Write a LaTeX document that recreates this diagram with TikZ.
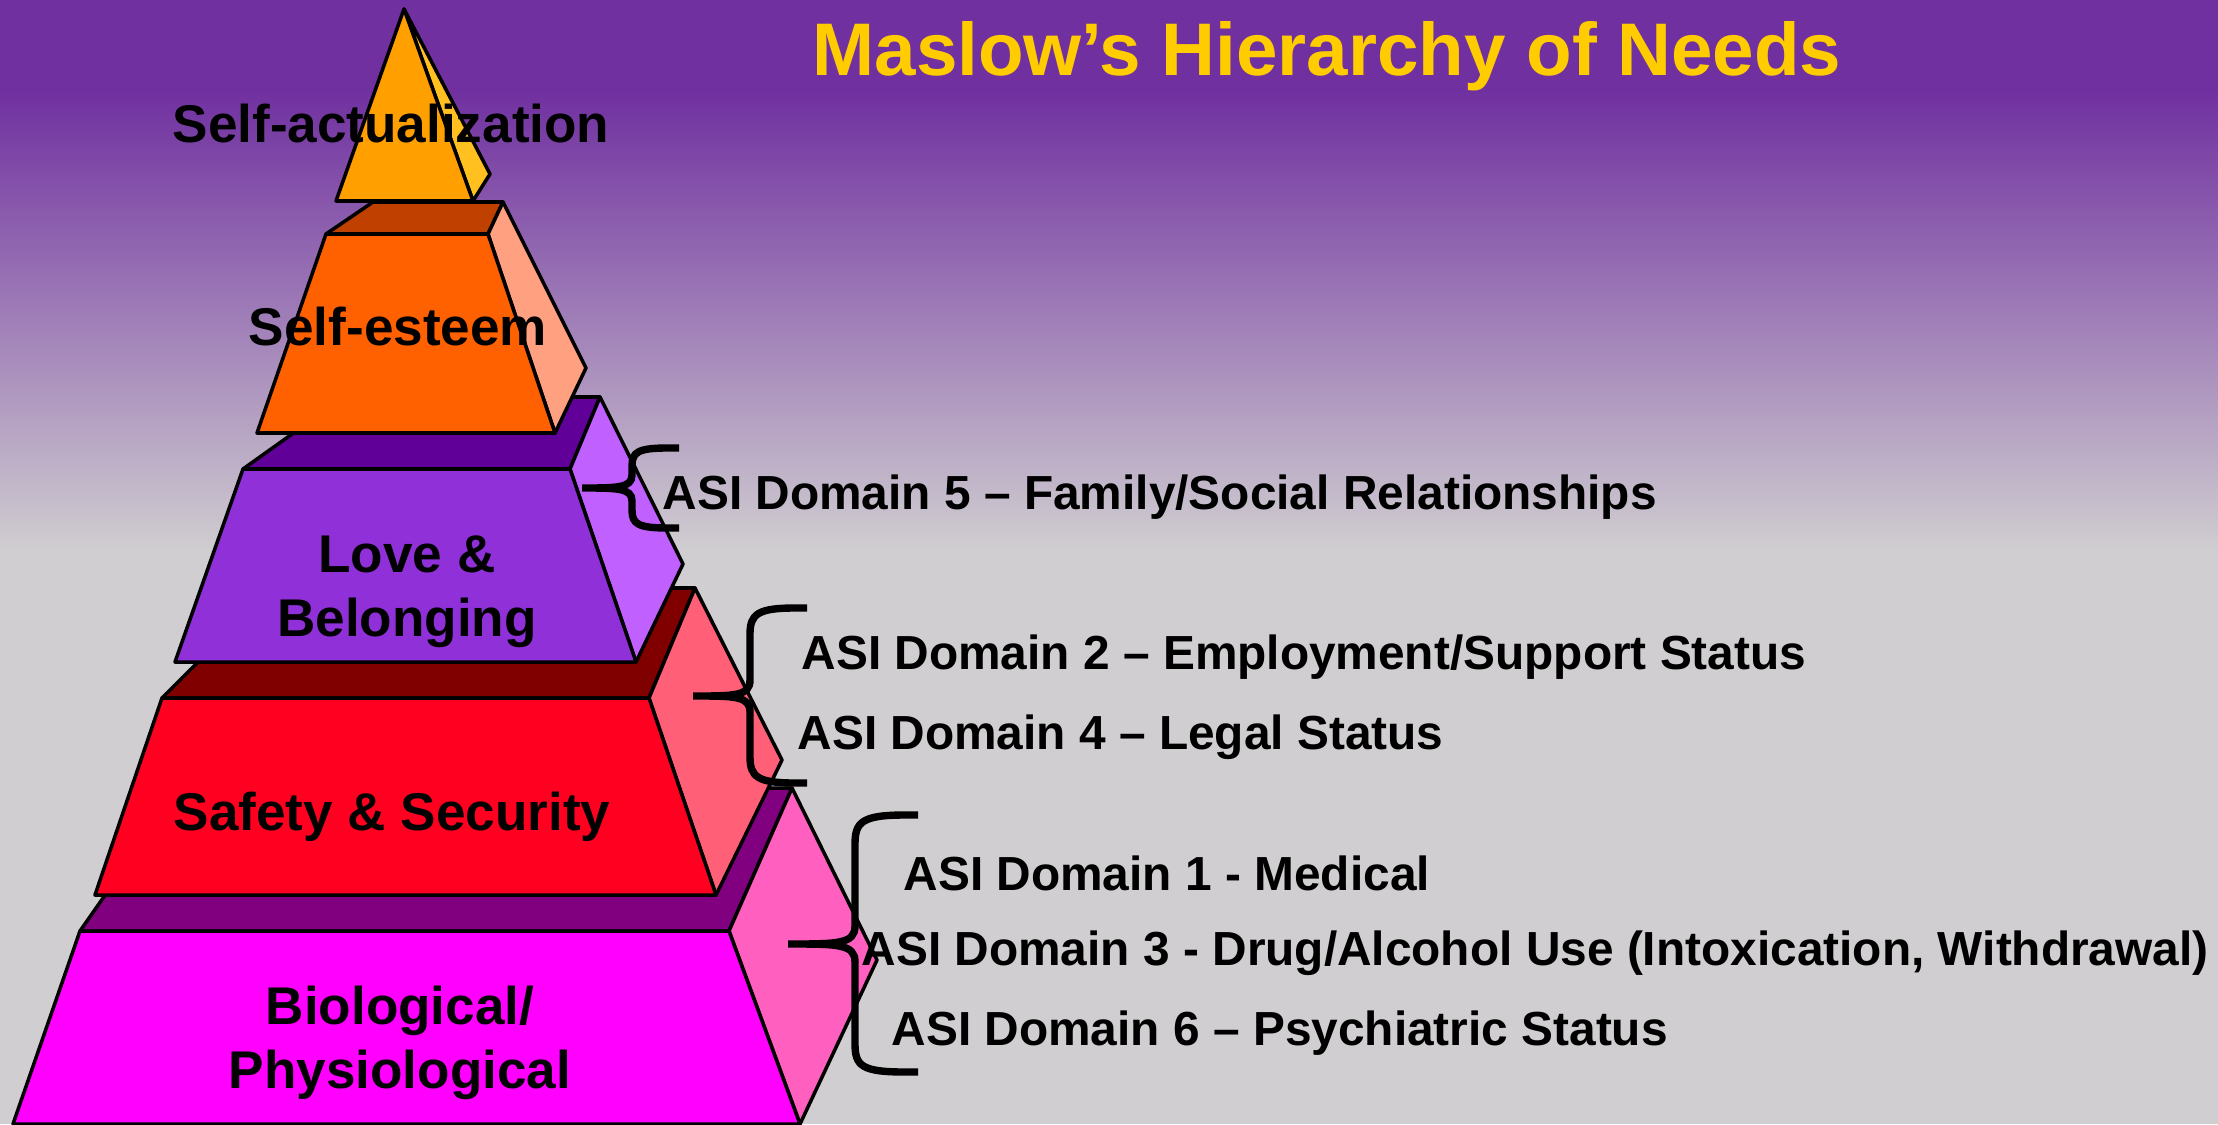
\documentclass[tikz,border=0pt]{standalone}
\usepackage{tikz}
\usetikzlibrary{arrows,positioning}
\usepackage{xcolor}
\usepackage{fontspec}
\setmainfont{Liberation Sans}

\definecolor{bgpurple}{HTML}{7030A0}
\definecolor{bggrey}{HTML}{D0CED0}
\definecolor{titleyellow}{HTML}{FFCC00}
\definecolor{actfront}{HTML}{FFA000}
\definecolor{actside}{HTML}{FFC020}
\definecolor{esttop}{HTML}{C04000}
\definecolor{estfront}{HTML}{FF6000}
\definecolor{estside}{HTML}{FFA080}
\definecolor{lovetop}{HTML}{600098}
\definecolor{lovefront}{HTML}{9030D8}
\definecolor{loveside}{HTML}{C060FF}
\definecolor{safetop}{HTML}{800000}
\definecolor{safefront}{HTML}{FF0020}
\definecolor{safeside}{HTML}{FF6078}
\definecolor{biotop}{HTML}{800080}
\definecolor{biofront}{HTML}{FF00FF}
\definecolor{bioside}{HTML}{FF60C0}

\begin{document}
\begin{tikzpicture}[x=0.01cm,y=-0.01cm,face/.style={draw=black,line width=1pt,line join=round},tierlabel/.style={font=\fontsize{15.1}{18.2}\selectfont\bfseries,inner sep=0pt,anchor=base},asitext/.style={font=\fontsize{13.6}{16}\selectfont\bfseries,inner sep=0pt,anchor=base west}]
		\useasboundingbox (0,0) rectangle (2218,1124);
		\fill[bggrey] (0,0) rectangle (2218,1124);
		\fill[bgpurple] (0,0) rectangle (2218,90);
		\shade[top color=bgpurple,bottom color=bggrey] (0,89) rectangle (2218,552);

		\filldraw[face,fill=biotop] (80,931) -- (180,788) -- (792,788) -- (729,931) -- cycle;
		\filldraw[face,fill=bioside] (792,788) -- (877,960) -- (800,1124) -- (729,931) -- cycle;
		\filldraw[face,fill=biofront] (80,931) -- (729,931) -- (800,1124) -- (13,1124) -- cycle;

		\filldraw[face,fill=safetop] (162,698) -- (272,588) -- (695,588) -- (649,698) -- cycle;
		\filldraw[face,fill=safeside] (695,588) -- (782,760) -- (716,895) -- (649,698) -- cycle;
		\filldraw[face,fill=safefront] (162,698) -- (649,698) -- (716,895) -- (95,895) -- cycle;

		\filldraw[face,fill=lovetop] (243,469) -- (344,397) -- (600,397) -- (570,469) -- cycle;
		\filldraw[face,fill=loveside] (600,397) -- (683,564) -- (636,662) -- (570,469) -- cycle;
		\filldraw[face,fill=lovefront] (243,469) -- (570,469) -- (636,662) -- (175,662) -- cycle;

		\filldraw[face,fill=esttop] (326,234) -- (373,202) -- (503,202) -- (488,234) -- cycle;
		\filldraw[face,fill=estside] (503,202) -- (586,368) -- (555,433) -- (488,234) -- cycle;
		\filldraw[face,fill=estfront] (326,234) -- (488,234) -- (555,433) -- (257,433) -- cycle;

		\filldraw[face,fill=actside] (404,9) -- (490,174) -- (473,201) -- cycle;
		\filldraw[face,fill=actfront] (404,9) -- (473,201) -- (336,201) -- cycle;

		\node[font=\fontsize{21.2}{25}\selectfont\bfseries,text=titleyellow,inner sep=0pt,anchor=base] (title) at (1327,75) {Maslow’s Hierarchy of Needs};

		\node[tierlabel] (act) at (391,142) {Self-actualization};
		\node[tierlabel] (est) at (398,345) {Self-esteem};
		\node[tierlabel,align=center,anchor=north] (love) at (407,535) {Love \&\\Belonging};
		\node[tierlabel] (safe) at (392,830) {Safety \& Security};
		\node[tierlabel,align=center,anchor=north] (bio) at (400,985) {Biological/\\Physiological};

		\node[asitext] (d5) at (662,509) {ASI Domain 5 -- Family/Social Relationships};
		\node[asitext] (d2) at (801,669) {ASI Domain 2 -- Employment/Support Status};
		\node[asitext] (d4) at (797,749) {ASI Domain 4 -- Legal Status};
		\node[asitext] (d1) at (903,890) {ASI Domain 1 - Medical};
		\node[asitext] (d3) at (861,965) {ASI Domain 3 - Drug/Alcohol Use (Intoxication, Withdrawal)};
		\node[asitext] (d6) at (891,1045) {ASI Domain 6 -- Psychiatric Status};

		\tikzset{asibrace/.style={draw=black,line width=2.1pt}}
		\path[asibrace] (679,448) -- (668,448) .. controls (638,448) and (632,452) .. (632,466) -- (632,475) .. controls (632,488) and (617,488) .. (582,488) .. controls (617,488) and (632,488) .. (632,501) -- (632,510) .. controls (632,524) and (638,528) .. (668,528) -- (679,528);
		\path[asibrace] (807,608) -- (795,608) .. controls (758,608) and (750,614) .. (750,634) -- (750,680) .. controls (750,696) and (735,696) .. (693,696) .. controls (735,696) and (750,696) .. (750,712) -- (750,757) .. controls (750,777) and (758,783) .. (795,783) -- (807,783);
		\path[asibrace] (918,815) -- (905,815) .. controls (862,815) and (855,822) .. (855,844) -- (855,926) .. controls (855,944) and (838,944) .. (788,944) .. controls (838,944) and (855,944) .. (855,962) -- (855,1044) .. controls (855,1066) and (862,1072) .. (905,1072) -- (918,1072);
	\end{tikzpicture}
\end{document}
